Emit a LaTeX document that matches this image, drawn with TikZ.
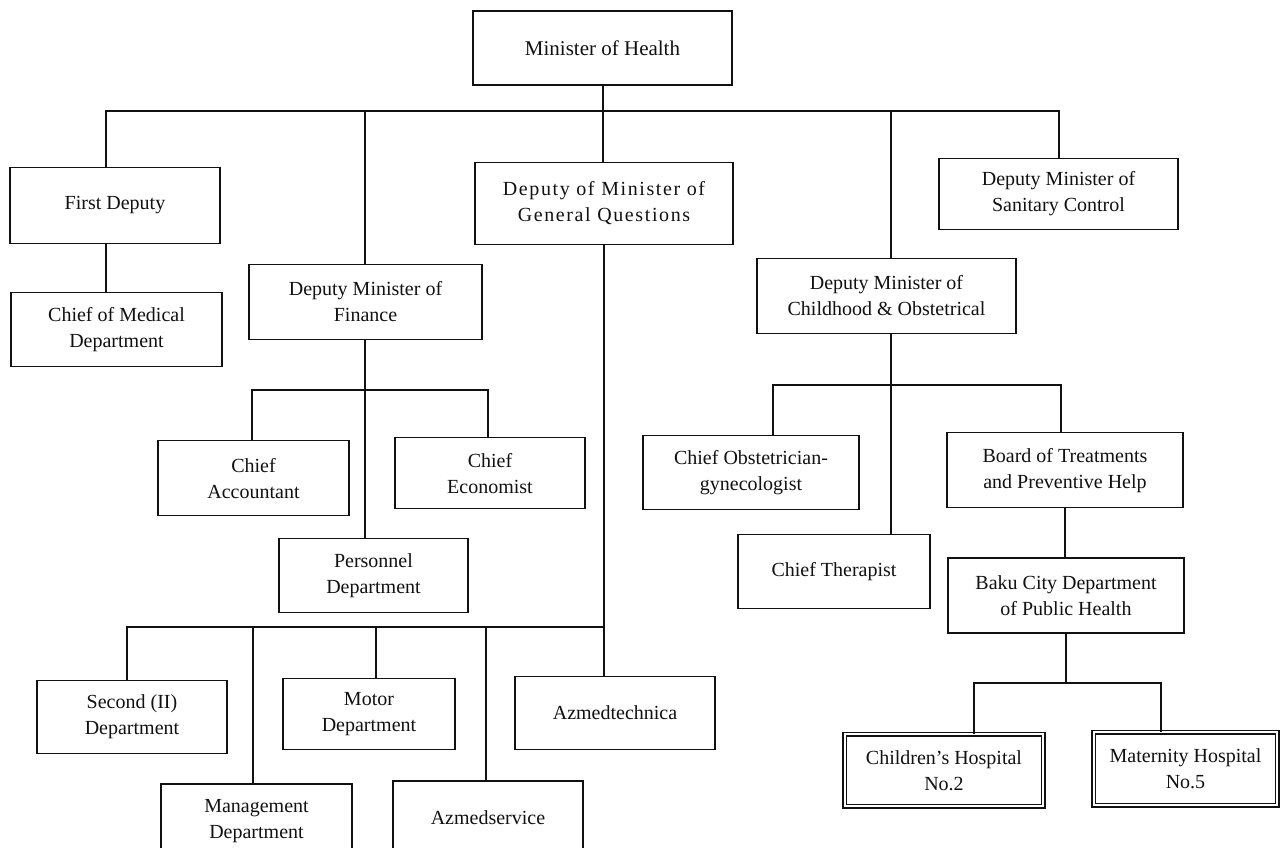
\documentclass[tikz,border=0pt]{standalone}
\usepackage{fontspec}
\setmainfont{Liberation Serif}
\newfontfamily\widefont[LetterSpace=8]{Liberation Serif}
\usepackage{xcolor}
\definecolor{inkBlack}{HTML}{111111}
\usepackage{tikz}
\usetikzlibrary{positioning}
\tikzset{
    % Base style for all boxes
    org base/.style={
        font=\fontsize{20}{26}\selectfont,
        align=center,
        text=inkBlack,
        inner sep=0pt,
        minimum height=74pt,
    },
    % Ordinary unit - plain rectangle
    unit/.style={
        org base,
        rectangle,
        draw=inkBlack,
        line width=1.3pt,
    },
    % Hospitals - double frame
    hospital/.style={
        org base,
        rectangle,
        draw=inkBlack,
        line width=1.6pt,
        double,
        double distance=2pt,
    },
    % Tree connector
    link/.style={
        draw=inkBlack,
        line width=2pt,
    },
}

\begin{document}
\begin{tikzpicture}
    \useasboundingbox (-602.5pt,-799pt) rectangle (679.5pt,48pt);
    \fill [white] (-602.5pt,-799pt) rectangle (679.5pt,48pt);

    \node (health) [unit, minimum width=259pt, font=\fontsize{21}{27}\selectfont] at (0,0) {Minister of Health};

    % deputies
    \node (gq) [unit, minimum width=258pt, minimum height=82pt, below=76pt of health, xshift=1.5pt] {\widefont Deputy of Minister of\\\widefont General Questions};
    \node (first) [unit, minimum width=210pt, minimum height=76pt, below=81pt of health, xshift=-487.5pt] {First Deputy};
    \node (finance) [unit, minimum width=233pt, minimum height=75pt, below=178pt of health, xshift=-237pt] {Deputy Minister of\\Finance};
    \node (childhood) [unit, minimum width=259pt, minimum height=75pt, below=172pt of health, xshift=284pt] {Deputy Minister of\\Childhood \& Obstetrical};
    \node (sanitary) [unit, minimum width=239pt, minimum height=71pt, below=72pt of health, xshift=456pt] {Deputy Minister of\\Sanitary Control};

    \node (medical) [unit, minimum width=211pt, below=48pt of first, xshift=1.5pt] {Chief of Medical\\Department};

    % finance branch
    \node (accountant) [unit, minimum width=191pt, minimum height=75pt, below=100pt of finance, xshift=-112pt] {Chief\\Accountant};
    \node (economist) [unit, minimum width=190pt, minimum height=71pt, below=97pt of finance, xshift=124.5pt] {Chief\\Economist};
    \node (personnel) [unit, minimum width=189pt, below=198pt of finance, xshift=8pt] {Personnel\\Department};

    % general questions branch
    \node (second) [unit, minimum width=190pt, minimum height=73pt, below=435pt of gq, xshift=-472pt] {Second (II)\\Department};
    \node (motor) [unit, minimum width=172pt, minimum height=71pt, below=433pt of gq, xshift=-235pt] {Motor\\Department};
    \node (azmedtechnica) [unit, minimum width=200pt, minimum height=73pt, below=431pt of gq, xshift=11pt] {Azmedtechnica};
    \node (management) [unit, minimum width=191pt, below=29pt of second, xshift=124.5pt] {Management\\Department};
    \node (azmedservice) [unit, minimum width=190pt, below=30pt of motor, xshift=119pt] {Azmedservice};

    % childhood branch
    \node (obst) [unit, minimum width=216pt, below=101pt of childhood, xshift=-135.5pt] {Chief Obstetrician-\\gynecologist};
    \node (board) [unit, minimum width=236pt, minimum height=75pt, below=98pt of childhood, xshift=178.5pt] {Board of Treatments\\and Preventive Help};
    \node (therapist) [unit, minimum width=192pt, below=200pt of childhood, xshift=-52.5pt] {Chief Therapist};
    \node (baku) [unit, minimum width=236pt, minimum height=75pt, below=49pt of board, xshift=1pt] {Baku City Department\\of Public Health};
    \node (children) [hospital, minimum width=198.8pt, minimum height=71.8pt, below=100pt of baku, xshift=-122pt] {Children's Hospital\\No.2};
    \node (maternity) [hospital, minimum width=183.8pt, minimum height=72.8pt, below=98pt of baku, xshift=119.5pt] {Maternity Hospital\\No.5};

    % top level
    \draw [link] (health.south) -- ++(0,-25pt) coordinate (topbus);
    \draw [link] (topbus) -| ([xshift=-9pt]first.north);
    \draw [link] (topbus) -| (finance.north);
    \draw [link] (topbus) -- (topbus |- gq.north);
    \draw [link] (topbus) -| ([xshift=4.5pt]childhood.north);
    \draw [link] (topbus) -| (sanitary.north);
    \draw [link] ([xshift=-9pt]first.south) -- ([xshift=-9pt]first.south |- medical.north);

    % finance
    \draw [link] (finance.south) -- ++(0,-50pt) coordinate (finbus) -- (finbus |- personnel.north);
    \draw [link] (finbus) -| ([xshift=-1.5pt]accountant.north);
    \draw [link] (finbus) -| ([xshift=-2pt]economist.north);

    % general questions
    \draw [link] (gq.south) -- ++(0,-382pt) coordinate (gqbus) -- (gqbus |- azmedtechnica.north);
    \draw [link] (gqbus) -| ([xshift=-5pt]second.north);
    \draw [link] (gqbus) -| ([xshift=-3.5pt]management.north);
    \draw [link] (gqbus) -| ([xshift=7pt]motor.north);
    \draw [link] (gqbus) -| ([xshift=-2pt]azmedservice.north);

    % childhood
    \draw [link] ([xshift=4.5pt]childhood.south) -- ++(0,-51pt) coordinate (chbus) -- (chbus |- therapist.north);
    \draw [link] (chbus) -| ([xshift=22pt]obst.north);
    \draw [link] (chbus) -| ([xshift=-4pt]board.north);
    \draw [link] (board.south) -- (board.south |- baku.north);
    \draw [link] (baku.south) -- ++(0,-49pt) coordinate (bakubus);
    \draw [link] (bakubus) -| ([xshift=30pt]children.north);
    \draw [link] (bakubus) -| ([xshift=-24.5pt]maternity.north);
\end{tikzpicture}
\end{document}
